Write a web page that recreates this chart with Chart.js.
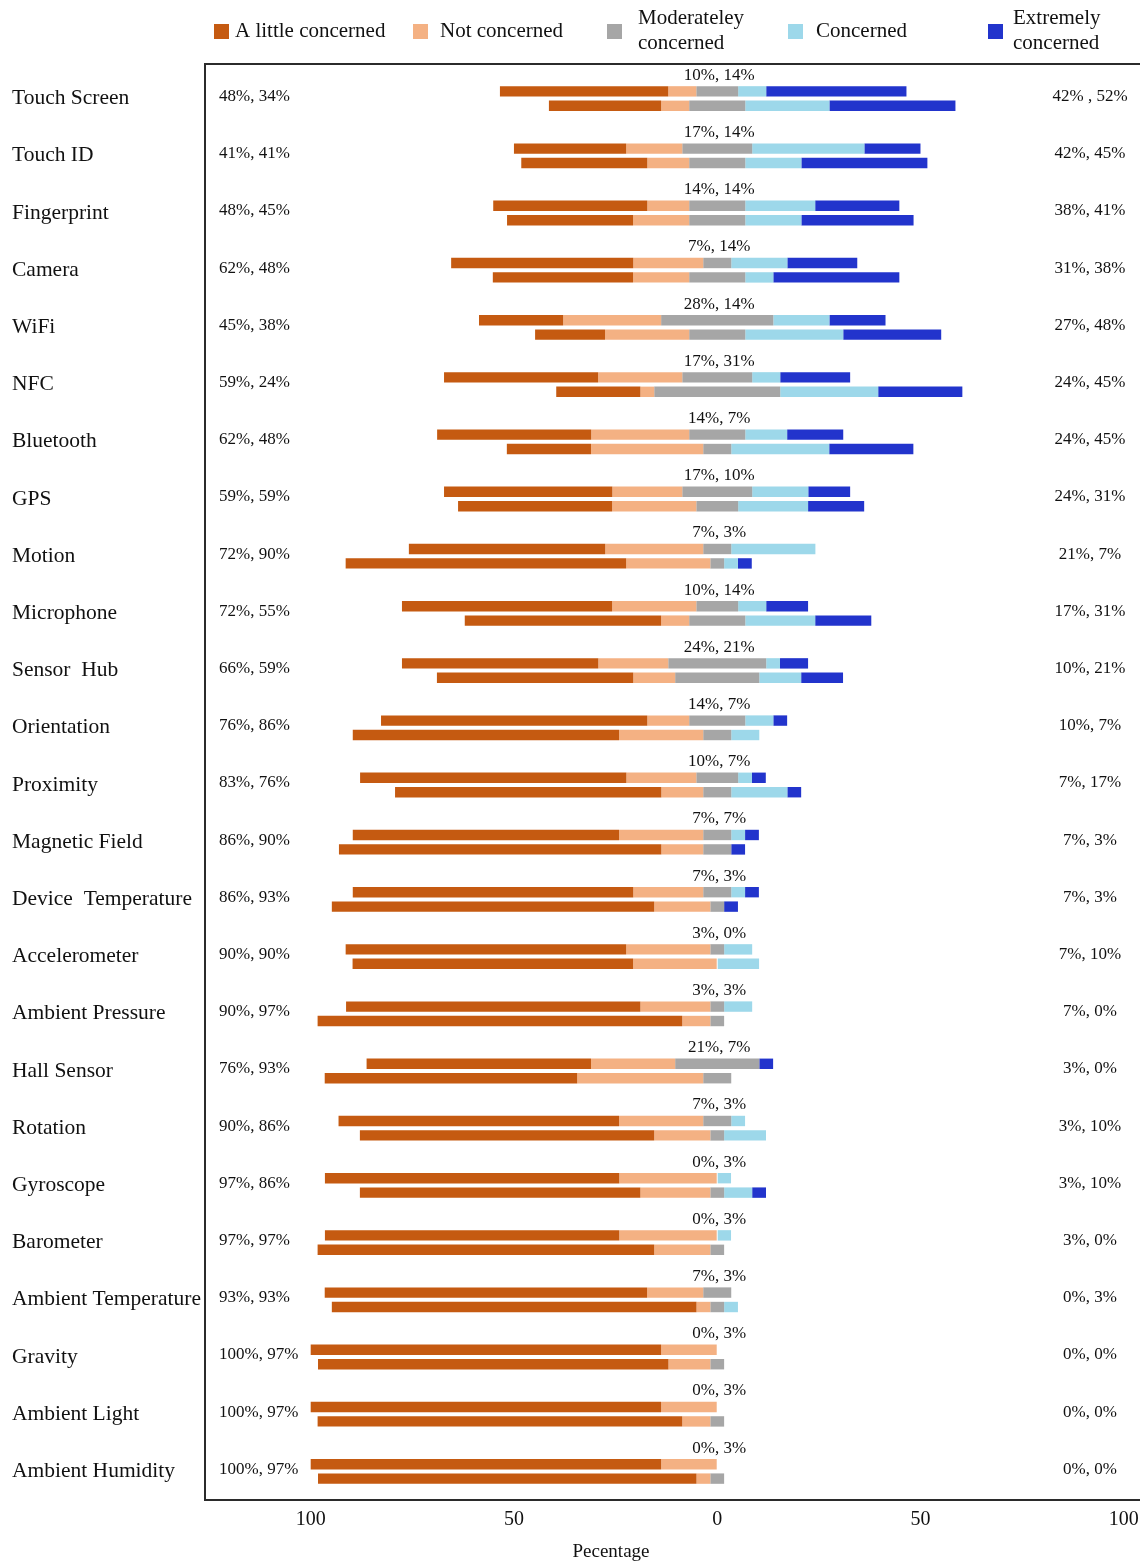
<!DOCTYPE html>
<html>
<head>
<meta charset="utf-8">
<script src="https://cdn.jsdelivr.net/npm/chart.js@4.4.0/dist/chart.umd.min.js"></script>
<style>
  html, body { margin: 0; padding: 0; background: #fff; }
</style>
</head>
<body>
<canvas id="chart" width="1140" height="1562"></canvas>
<script>
const sensors = ['Touch Screen', 'Touch ID', 'Fingerprint', 'Camera', 'WiFi', 'NFC', 'Bluetooth', 'GPS',
  'Motion', 'Microphone', 'Sensor  Hub', 'Orientation', 'Proximity', 'Magnetic Field', 'Device  Temperature',
  'Accelerometer', 'Ambient Pressure', 'Hall Sensor', 'Rotation', 'Gyroscope', 'Barometer',
  'Ambient Temperature', 'Gravity', 'Ambient Light', 'Ambient Humidity'];

// upper bar of each pair (percent)
const little1 = [41.4, 27.6, 37.9, 44.8, 20.7, 37.9, 37.9, 41.4, 48.3, 51.7, 48.3, 65.5, 65.5, 65.5, 69.0, 69.0, 72.4, 55.2, 69.0, 72.4, 72.4, 79.3, 86.2, 86.2, 86.2];
const notc1   = [6.9, 13.8, 10.3, 17.2, 24.1, 20.7, 24.1, 17.2, 24.1, 20.7, 17.2, 10.3, 17.2, 20.7, 17.2, 20.7, 17.2, 20.7, 20.7, 24.1, 24.1, 13.8, 13.8, 13.8, 13.8];
const mod1    = [10.3, 17.2, 13.8, 6.9, 27.6, 17.2, 13.8, 17.2, 6.9, 10.3, 24.1, 13.8, 10.3, 6.9, 6.9, 3.4, 3.4, 20.7, 6.9, 0, 0, 6.9, 0, 0, 0];
const conc1   = [6.9, 27.6, 17.2, 13.8, 13.8, 6.9, 10.3, 13.8, 20.7, 6.9, 3.4, 6.9, 3.4, 3.4, 3.4, 6.9, 6.9, 0, 3.4, 3.4, 3.4, 0, 0, 0, 0];
const ext1    = [34.5, 13.8, 20.7, 17.2, 13.8, 17.2, 13.8, 10.3, 0, 10.3, 6.9, 3.4, 3.4, 3.4, 3.4, 0, 0, 3.4, 0, 0, 0, 0, 0, 0, 0];

// lower bar of each pair (percent)
const little2 = [27.6, 31.0, 31.0, 34.5, 17.2, 20.7, 20.7, 37.9, 69.0, 48.3, 48.3, 65.5, 65.5, 79.3, 79.3, 69.0, 89.7, 62.1, 72.4, 69.0, 82.8, 89.7, 86.2, 89.7, 93.1];
const notc2   = [6.9, 10.3, 13.8, 13.8, 20.7, 3.4, 27.6, 20.7, 20.7, 6.9, 10.3, 20.7, 10.3, 10.3, 13.8, 20.7, 6.9, 31.0, 13.8, 17.2, 13.8, 3.4, 10.3, 6.9, 3.4];
const mod2    = [13.8, 13.8, 13.8, 13.8, 13.8, 31.0, 6.9, 10.3, 3.4, 13.8, 20.7, 6.9, 6.9, 6.9, 3.4, 0, 3.4, 6.9, 3.4, 3.4, 3.4, 3.4, 3.4, 3.4, 3.4];
const conc2   = [20.7, 13.8, 13.8, 6.9, 24.1, 24.1, 24.1, 17.2, 3.4, 17.2, 10.3, 6.9, 13.8, 0, 0, 10.3, 0, 0, 10.3, 6.9, 0, 3.4, 0, 0, 0];
const ext2    = [31.0, 31.0, 27.6, 31.0, 24.1, 20.7, 20.7, 13.8, 3.4, 13.8, 10.3, 0, 3.4, 3.4, 3.4, 0, 0, 0, 0, 3.4, 0, 0, 0, 0, 0];

const leftLabels = ['48%, 34%', '41%, 41%', '48%, 45%', '62%, 48%', '45%, 38%', '59%, 24%', '62%, 48%', '59%, 59%',
  '72%, 90%', '72%, 55%', '66%, 59%', '76%, 86%', '83%, 76%', '86%, 90%', '86%, 93%', '90%, 90%', '90%, 97%',
  '76%, 93%', '90%, 86%', '97%, 86%', '97%, 97%', '93%, 93%', '100%, 97%', '100%, 97%', '100%, 97%'];
const midLabels = ['10%, 14%', '17%, 14%', '14%, 14%', '7%, 14%', '28%, 14%', '17%, 31%', '14%, 7%', '17%, 10%',
  '7%, 3%', '10%, 14%', '24%, 21%', '14%, 7%', '10%, 7%', '7%, 7%', '7%, 3%', '3%, 0%', '3%, 3%', '21%, 7%',
  '7%, 3%', '0%, 3%', '0%, 3%', '7%, 3%', '0%, 3%', '0%, 3%', '0%, 3%'];
const rightLabels = ['42% , 52%', '42%, 45%', '38%, 41%', '31%, 38%', '27%, 48%', '24%, 45%', '24%, 45%', '24%, 31%',
  '21%, 7%', '17%, 31%', '10%, 21%', '10%, 7%', '7%, 17%', '7%, 3%', '7%, 3%', '7%, 10%', '7%, 0%', '3%, 0%',
  '3%, 10%', '3%, 10%', '3%, 0%', '0%, 3%', '0%, 0%', '0%, 0%', '0%, 0%'];

const xTicks = [-100, -50, 0, 50, 100];

const levels = ['A little concerned', 'Not concerned', 'Moderateley concerned', 'Concerned', 'Extremely concerned'];
const colors = ['#C55A11', '#F4B183', '#A6A6A6', '#9DD8EA', '#2234CC'];

const serif = '"Liberation Serif", "Times New Roman", serif';

// turn the five shares into floating ranges, moderate share straddles zero
function ranges(little, notc, mod, conc, ext) {
  const out = [[], [], [], [], []];
  little.forEach((_, i) => {
    const h = mod[i] / 2;
    out[0].push([-h - notc[i] - little[i], -h - notc[i]]);
    out[1].push([-h - notc[i], -h]);
    out[2].push([-h, h]);
    out[3].push([h, h + conc[i]]);
    out[4].push([h + conc[i], h + conc[i] + ext[i]]);
  });
  return out;
}

const upper = ranges(little1, notc1, mod1, conc1, ext1);
const lower = ranges(little2, notc2, mod2, conc2, ext2);

const datasets = [];
[['upper', upper], ['lower', lower]].forEach(([stack, r]) => {
  levels.forEach((lv, k) => {
    datasets.push({
      label: lv,
      stack: stack,
      data: r[k],
      backgroundColor: colors[k],
      borderWidth: 0,
      categoryPercentage: 0.505,
      barPercentage: 0.72,
    });
  });
});

// frame, percentage notes, axis title and legend
const extras = {
  id: 'extras',
  afterDraw(chart) {
    const { ctx, chartArea: a } = chart;
    const x = chart.scales.x;
    const y = chart.scales.y;
    ctx.save();

    const frameTop = a.top - 6;
    ctx.strokeStyle = '#2b2b2b';
    ctx.lineWidth = 2;
    ctx.beginPath();
    ctx.moveTo(chart.width, frameTop);
    ctx.lineTo(a.left, frameTop);
    ctx.lineTo(a.left, a.bottom);
    ctx.lineTo(chart.width, a.bottom);
    ctx.stroke();

    ctx.fillStyle = '#111';
    ctx.font = '17px ' + serif;
    ctx.textBaseline = 'middle';
    const topMeta = chart.getDatasetMeta(0);
    sensors.forEach((_, i) => {
      const cy = y.getPixelForValue(i) - 2;
      ctx.textAlign = 'left';
      ctx.fillText(leftLabels[i], a.left + 14, cy);
      ctx.textAlign = 'center';
      ctx.fillText(rightLabels[i], chart.width - 50, cy);
      ctx.fillText(midLabels[i], x.getPixelForValue(0) + 2, topMeta.data[i].y - 16);
    });

    ctx.font = '19px ' + serif;
    ctx.fillText('Pecentage', 611, 1552);

    // legend
    const items = [
      { box: 214, text: 235, lines: ['A little concerned'] },
      { box: 413, text: 440, lines: ['Not concerned'] },
      { box: 607, text: 638, lines: ['Moderateley', 'concerned'] },
      { box: 788, text: 816, lines: ['Concerned'] },
      { box: 988, text: 1013, lines: ['Extremely', 'concerned'] },
    ];
    ctx.font = '21px ' + serif;
    ctx.textAlign = 'left';
    items.forEach((it, k) => {
      ctx.fillStyle = colors[k];
      ctx.fillRect(it.box, 24, 15, 15);
      ctx.fillStyle = '#111';
      if (it.lines.length === 1) {
        ctx.fillText(it.lines[0], it.text, 31);
      } else {
        ctx.fillText(it.lines[0], it.text, 18);
        ctx.fillText(it.lines[1], it.text, 43);
      }
    });
    ctx.restore();
  }
};

new Chart(document.getElementById('chart'), {
  type: 'bar',
  data: { labels: sensors, datasets: datasets },
  plugins: [extras],
  options: {
    indexAxis: 'y',
    responsive: false,
    devicePixelRatio: 1,
    animation: false,
    layout: { autoPadding: false, padding: { top: 70, left: 12, right: 0, bottom: 0 } },
    plugins: { legend: { display: false }, tooltip: { enabled: false } },
    scales: {
      x: {
        type: 'linear',
        stacked: false,
        min: -126,
        max: 104,
        // invisible tick marks push the labels down (tick padding would shrink the area)
        grid: { display: true, drawOnChartArea: false, drawTicks: true, tickLength: 8, color: 'rgba(0,0,0,0)' },
        border: { display: false },
        afterBuildTicks: s => { s.ticks = xTicks.map(v => ({ value: v })); },
        afterFit: s => { s.height = 62; },
        ticks: {
          callback: v => Math.abs(v),
          font: { family: serif, size: 20 },
          color: '#111',
          padding: 0,
          maxRotation: 0,
        },
      },
      y: {
        grid: { display: false, drawTicks: false },
        border: { display: false },
        afterFit: s => { s.width = 193; },
        ticks: { crossAlign: 'far', font: { family: serif, size: 21.5 }, color: '#111', padding: 0, autoSkip: false },
      },
    },
  },
});
</script>
</body>
</html>
